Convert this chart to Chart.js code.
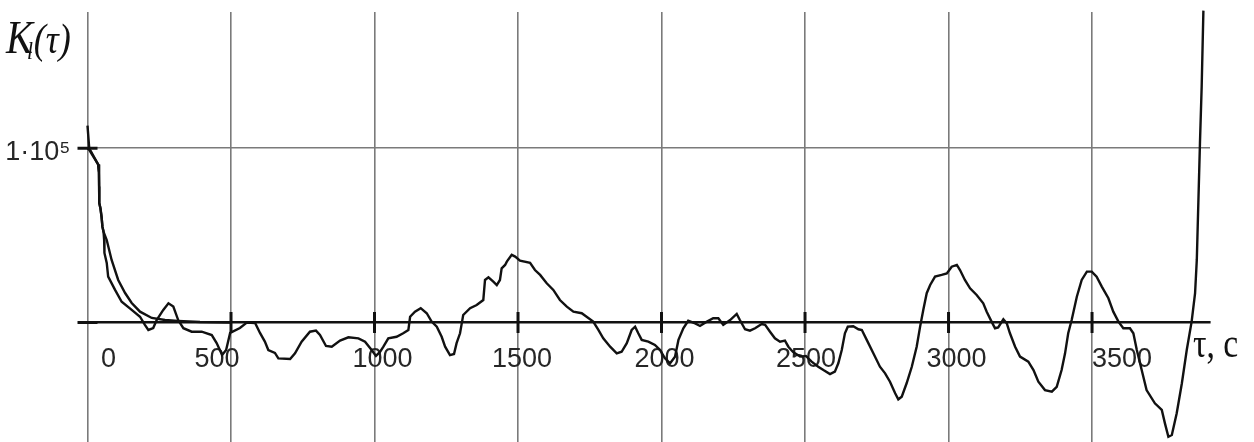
<!DOCTYPE html>
<html>
<head>
<meta charset="utf-8">
<script src="https://cdn.jsdelivr.net/npm/chart.js@4/dist/chart.umd.min.js"></script>
<style>
  html, body { margin: 0; padding: 0; background: #fff; }
  #wrap { width: 1254px; height: 442px; }
</style>
</head>
<body>
<div id="wrap"><canvas id="acf" width="1254" height="442"></canvas></div>
<script>
// Lag τ (s) and estimated correlation function K_l(τ)
const lagEstimate = [0, 6, 37, 40, 40.5, 41, 45, 49, 52, 56, 58, 59, 67, 72, 96, 119, 154, 183, 200, 212, 229, 241, 264, 282, 299, 316, 334, 363, 398, 433, 450, 469, 483, 497, 531, 555, 584, 601, 618, 630, 653, 665, 706, 723, 746, 775, 796, 810, 831, 851, 880, 909, 944, 967, 990, 1005, 1019, 1031, 1048, 1077, 1100, 1118, 1124, 1141, 1161, 1182, 1199, 1217, 1234, 1246, 1263, 1277, 1286, 1298, 1304, 1309, 1333, 1356, 1379, 1385, 1397, 1414, 1426, 1437, 1443, 1455, 1461, 1478, 1490, 1507, 1542, 1559, 1577, 1600, 1623, 1646, 1670, 1693, 1722, 1739, 1762, 1780, 1797, 1821, 1844, 1861, 1879, 1896, 1908, 1919, 1931, 1954, 1977, 1995, 2012, 2030, 2047, 2059, 2076, 2093, 2117, 2134, 2152, 2180, 2198, 2215, 2239, 2262, 2273, 2291, 2308, 2326, 2349, 2361, 2378, 2395, 2413, 2430, 2442, 2458, 2483, 2503, 2523, 2546, 2564, 2587, 2604, 2616, 2628, 2639, 2649, 2668, 2686, 2698, 2715, 2738, 2761, 2779, 2796, 2814, 2825, 2837, 2854, 2872, 2889, 2901, 2912, 2924, 2936, 2953, 2976, 2994, 3011, 3029, 3040, 3057, 3075, 3098, 3121, 3133, 3150, 3162, 3173, 3191, 3203, 3214, 3232, 3249, 3278, 3296, 3313, 3336, 3360, 3377, 3394, 3406, 3417, 3429, 3447, 3464, 3482, 3499, 3516, 3534, 3557, 3574, 3592, 3609, 3632, 3644, 3656, 3673, 3690, 3719, 3743, 3754, 3766, 3778, 3795, 3813, 3830, 3847, 3859, 3865, 3876, 3882, 3888];
const acfEstimate = [113000, 100000, 90700, 86000, 78000, 68600, 65600, 60600, 55000, 52000, 47400, 39900, 34200, 26300, 18700, 11900, 7200, 3300, -1400, -4300, -3200, 1400, 7200, 11000, 9100, 1400, -3300, -5300, -5300, -7200, -11800, -18700, -15800, -6000, -3200, -100, -300, -6000, -11000, -15800, -17500, -20600, -21000, -17700, -11000, -5300, -4700, -7200, -13500, -13900, -10400, -8500, -9100, -11000, -15800, -19200, -16900, -13900, -9100, -8200, -6200, -4300, 3300, 6200, 8200, 5300, 500, -2400, -8200, -13900, -18700, -18100, -11900, -6200, -500, 4300, 8200, 10000, 12900, 24400, 25900, 23400, 21500, 24400, 31100, 33000, 34900, 38800, 37800, 35500, 34300, 30100, 27300, 22500, 18700, 12900, 9100, 6200, 5300, 3300, 500, -4300, -9100, -13900, -17700, -16800, -11900, -4300, -2400, -6200, -10000, -11000, -12900, -15800, -20600, -23400, -19600, -10000, -3300, 1000, -500, -2000, -100, 2400, 2400, -1400, 1400, 4900, 1400, -3900, -4700, -3300, -900, -1400, -5300, -9100, -11000, -10400, -13900, -16900, -19600, -19200, -22500, -25400, -27300, -29600, -28200, -23400, -15800, -6200, -2400, -2200, -3900, -4300, -10000, -17700, -25400, -29200, -34000, -40600, -44100, -42600, -34900, -25400, -13900, -2400, 7200, 16800, 21500, 26300, 27300, 28200, 32000, 33000, 30100, 24400, 19600, 15800, 11000, 6200, 500, -3300, -2800, 1800, -500, -6200, -13900, -19600, -22500, -27300, -34000, -38800, -39700, -36900, -27300, -17700, -6200, 1400, 14800, 24400, 29200, 29200, 26300, 20600, 13900, 6200, 500, -3300, -3300, -6200, -15800, -27300, -38800, -46400, -50200, -57900, -65600, -64600, -52100, -34900, -15800, 500, 16800, 35900, 102900, 135400, 179000];

// Approximating (model) correlation function
const lagModel = [0, 6, 37, 40, 40.5, 41, 45, 49, 52, 56, 67, 84, 107, 131, 154, 183, 224, 270, 315, 392, 500];
const acfModel = [100000, 99000, 90700, 86000, 78000, 68600, 65600, 60600, 55000, 52000, 47300, 35900, 24400, 16900, 11200, 6200, 2600, 1400, 900, 300, 0];

// Axis ticks
const xTickValues = [0, 500, 1000, 1500, 2000, 2500, 3000, 3500];
const xTickLabels = ['0', '500', '1000', '1500', '2000', '2500', '3000', '3500'];
const yTickValues = [0, 100000];
const yTickLabels = ['', '1·10⁵'];

const pairs = (xs, ys) => xs.map((x, i) => ({ x, y: ys[i] }));

const INK = '#111';
const GRID = '#7a7a7a';
const SANS = '"Liberation Sans", Arial, Helvetica, sans-serif';
const SERIF = '"Liberation Serif", "Times New Roman", Times, serif';

// horizontal nudges (px) of the τ labels along the axis
const xLabelShift = [21, -14, 8, 4, 3, 1, 8, 30];

const shiftXLabels = {
  id: 'shiftXLabels',
  beforeDraw(chart) {
    const s = chart.scales.x;
    const items = s.getLabelItems();
    if (!items || items._shifted) return;
    items.forEach((it, i) => { it.options.translation[0] += xLabelShift[i] || 0; });
    items._shifted = true;
  }
};

const axisCaptions = {
  id: 'axisCaptions',
  afterDraw(chart) {
    const ctx = chart.ctx;
    const area = chart.chartArea;
    const y0 = chart.scales.y.getPixelForValue(0);
    ctx.save();
    ctx.fillStyle = INK;
    ctx.textAlign = 'left';
    ctx.textBaseline = 'alphabetic';
    // ordinate caption K_l(τ)
    ctx.translate(6, 53);
    ctx.scale(0.86, 1);
    ctx.font = `italic 47px ${SERIF}`;
    ctx.fillText('K', 0, 0);
    let x = ctx.measureText('K').width - 7;
    ctx.font = `italic 25px ${SERIF}`;
    ctx.fillText('l', x, 6);
    x += ctx.measureText('l').width + 1;
    ctx.font = `italic 42px ${SERIF}`;
    ctx.fillText('(τ)', x, 0);
    ctx.restore();

    // abscissa caption
    ctx.save();
    ctx.fillStyle = INK;
    ctx.textAlign = 'left';
    ctx.textBaseline = 'alphabetic';
    ctx.translate(area.right - 17, y0 + 35);
    ctx.scale(0.8, 1);
    ctx.font = `42px ${SERIF}`;
    ctx.fillText('τ, c', 0, 0);
    ctx.restore();
  }
};

new Chart(document.getElementById('acf'), {
  type: 'scatter',
  data: {
    datasets: [
      {
        data: pairs(lagModel, acfModel),
        showLine: true, borderColor: INK, borderWidth: 2.4,
        pointRadius: 0, tension: 0, clip: false
      },
      {
        data: pairs(lagEstimate, acfEstimate),
        showLine: true, borderColor: INK, borderWidth: 2.4,
        pointRadius: 0, tension: 0, clip: false
      },
      {
        // cross marks on the τ axis
        data: xTickValues.filter(v => v > 0).map(v => ({ x: v, y: 0 })),
        showLine: false, pointStyle: 'line', pointRadius: 10.5,
        pointRotation: 90, pointBorderWidth: 3, pointBorderColor: INK, clip: false
      },
      {
        // cross marks on the K axis
        data: yTickValues.map(v => ({ x: 0, y: v })),
        showLine: false, pointStyle: 'line', pointRadius: 10,
        pointRotation: 0, pointBorderWidth: 3, pointBorderColor: INK, clip: false
      }
    ]
  },
  options: {
    responsive: false,
    devicePixelRatio: 1,
    animation: false,
    events: [],
    layout: { autoPadding: false, padding: { left: 0, right: 44, top: 12, bottom: 0 } },
    plugins: { legend: { display: false }, tooltip: { enabled: false }, title: { display: false } },
    scales: {
      x: {
        type: 'linear',
        position: { y: 0 },
        min: 0, max: 3911,
        afterBuildTicks(s) { s.ticks = xTickValues.map(v => ({ value: v })); },
        afterFit(s) { s.paddingLeft = 0; s.paddingRight = 0; },
        grid: { color: GRID, lineWidth: 1.6, drawTicks: false },
        border: { display: true, color: INK, width: 2.6 },
        ticks: {
          autoSkip: false, maxRotation: 0, minRotation: 0, padding: 21,
          color: '#262626', font: { family: SANS, size: 27 },
          callback: (v, i) => xTickLabels[i]
        }
      },
      y: {
        type: 'linear',
        position: 'left',
        min: -68600, max: 178200,
        afterBuildTicks(s) { s.ticks = yTickValues.map(v => ({ value: v })); },
        afterFit(s) { s.width = 87.5; s.paddingTop = 0; s.paddingBottom = 0; },
        grid: {
          color: ctx => (ctx.tick && ctx.tick.value === 0) ? 'rgba(0,0,0,0)' : GRID,
          lineWidth: 1.6, drawTicks: false
        },
        border: { display: false },
        ticks: {
          padding: 17, labelOffset: 4,
          color: '#262626', font: { family: SANS, size: 27 },
          callback: (v, i) => yTickLabels[i]
        }
      }
    }
  },
  plugins: [shiftXLabels, axisCaptions]
});
</script>
</body>
</html>
